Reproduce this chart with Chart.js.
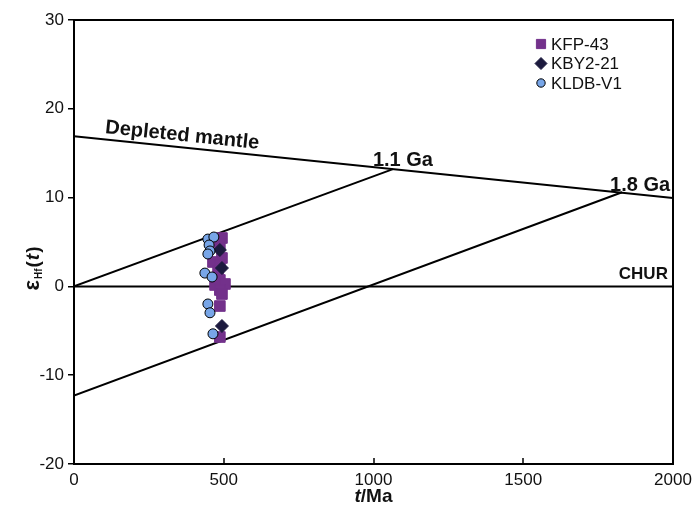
<!DOCTYPE html>
<html>
<head>
<meta charset="utf-8">
<script src="https://cdn.jsdelivr.net/npm/chart.js@4/dist/chart.umd.min.js"></script>
<style>
  html, body { margin: 0; padding: 0; background: #fff; }
  canvas { display: block; }
</style>
</head>
<body>
<canvas id="c" width="694" height="514"></canvas>
<script>
/* εHf(t) vs t (Ma) for zircons, with depleted mantle, CHUR and crustal model ages */

var FONT = '"Liberation Sans", Arial, sans-serif';
var INK = "#111";

var xTicks = [0, 500, 1000, 1500, 2000];
var yTicks = [-20, -10, 0, 10, 20, 30];

// KFP-43 (purple squares)
var kfpT = [494, 487, 494, 464, 487, 481, 487, 504, 471, 487, 494, 487, 487];
var kfpE = [5.45, 4.77, 3.2, 2.75, 2.41, 1.73, 0.72, 0.27, 0.16, -0.41, -0.86, -2.21, -5.7];

// KBY2-21 (dark diamonds)
var kbyT = [487, 494, 494];
var kbyE = [4.1, 2.07, -4.46];

// KLDB-V1 (blue circles)
var kldbT = [447, 467, 451, 454, 447, 437, 461, 447, 454, 464];
var kldbE = [5.33, 5.56, 4.66, 3.99, 3.65, 1.5, 1.06, -1.98, -2.97, -5.34];

// reference lines
var dmT = [0, 2000], dmE = [16.9, 9.95];
var ga11T = [0, 1065], ga11E = [0, 13.2];
var ga18T = [0, 1830], ga18E = [-12.3, 10.6];
var churT = [0, 2000], churE = [0, 0];

function pts(t, e) { return t.map(function (v, i) { return { x: v, y: e[i] }; }); }

function line(t, e) {
  return {
    type: "line", data: pts(t, e), showLine: true, pointRadius: 0,
    borderColor: "#000", borderWidth: 2, fill: false, tension: 0
  };
}

var series = [
  { label: "KFP-43", style: "rect", color: "#73318b", border: "#73318b", r: 7.5, lr: 6.5 },
  { label: "KBY2-21", style: "rectRot", color: "#1c1a3e", border: "#1c1a3e", r: 6.5, lr: 6 },
  { label: "KLDB-V1", style: "circle", color: "#78a6e8", border: "#000", r: 5, lr: 4.2 }
];

/* frame + inward x ticks */
var frame = {
  id: "frame",
  beforeDatasetsDraw: function (chart) {
    var a = chart.chartArea, ctx = chart.ctx, x = chart.scales.x;
    ctx.save();
    ctx.strokeStyle = "#000";
    ctx.lineWidth = 2;
    ctx.strokeRect(a.left, a.top, a.right - a.left, a.bottom - a.top);
    ctx.lineWidth = 1.5;
    xTicks.forEach(function (v) {
      var px = Math.round(x.getPixelForValue(v));
      ctx.beginPath();
      ctx.moveTo(px, a.bottom);
      ctx.lineTo(px, a.bottom - 6);
      ctx.stroke();
    });
    ctx.restore();
  }
};

/* texts: axis titles, line labels, legend */
var texts = {
  id: "texts",
  afterDraw: function (chart) {
    var ctx = chart.ctx, x = chart.scales.x, y = chart.scales.y, a = chart.chartArea;
    ctx.save();
    ctx.fillStyle = INK;
    ctx.textBaseline = "alphabetic";

    // y title: εHf(t)
    ctx.save();
    ctx.translate(39, 268);
    ctx.rotate(-Math.PI / 2);
    var parts = [
      ["ε", "bold 22px " + FONT, 0],
      ["Hf", "bold 10px " + FONT, 3],
      ["(", "bold 19px " + FONT, 0],
      ["t", "italic bold 19px " + FONT, 0],
      [")", "bold 19px " + FONT, 0]
    ];
    var w = 0;
    parts.forEach(function (p) { ctx.font = p[1]; w += ctx.measureText(p[0]).width + 1; });
    var cx = -w / 2;
    parts.forEach(function (p) {
      ctx.font = p[1];
      ctx.fillText(p[0], cx, p[2]);
      cx += ctx.measureText(p[0]).width + 1;
    });
    ctx.restore();

    // x title: t/Ma
    ctx.font = "italic bold 19px " + FONT;
    var tw = ctx.measureText("t").width;
    ctx.font = "bold 19px " + FONT;
    var mw = ctx.measureText("/Ma").width;
    var sx = (a.left + a.right) / 2 - (tw + mw) / 2;
    ctx.font = "italic bold 19px " + FONT;
    ctx.fillText("t", sx, 502);
    ctx.font = "bold 19px " + FONT;
    ctx.fillText("/Ma", sx + tw, 502);

    // Depleted mantle, rotated along the line
    var ang = Math.atan2(y.getPixelForValue(dmE[1]) - y.getPixelForValue(dmE[0]),
                         x.getPixelForValue(dmT[1]) - x.getPixelForValue(dmT[0]));
    ctx.save();
    ctx.translate(x.getPixelForValue(103), y.getPixelForValue(17.27));
    ctx.rotate(ang);
    ctx.font = "bold 20px " + FONT;
    ctx.fillText("Depleted mantle", 0, 0);
    ctx.restore();

    ctx.font = "bold 20px " + FONT;
    ctx.textAlign = "left";
    ctx.fillText("1.1 Ga", x.getPixelForValue(998), y.getPixelForValue(13.56));
    ctx.fillText("1.8 Ga", x.getPixelForValue(1790), y.getPixelForValue(10.74));
    ctx.font = "bold 17px " + FONT;
    ctx.textAlign = "right";
    ctx.fillText("CHUR", x.getPixelForValue(1983), y.getPixelForValue(0.83));

    // legend
    ctx.textAlign = "left";
    ctx.textBaseline = "middle";
    ctx.font = "17px " + FONT;
    series.forEach(function (s, i) {
      var ly = 44 + i * 19.5;
      ctx.fillStyle = s.color;
      ctx.strokeStyle = s.border;
      ctx.lineWidth = 1;
      Chart.helpers.drawPoint(ctx, { pointStyle: s.style, radius: s.lr, borderWidth: 1 }, 541, ly);
      ctx.fillStyle = INK;
      ctx.fillText(s.label, 551, ly + 1);
    });
    ctx.restore();
  }
};

function ds(s, t, e) {
  return {
    label: s.label, data: pts(t, e), pointStyle: s.style, pointRadius: s.r,
    backgroundColor: s.color, borderColor: s.border, borderWidth: 1
  };
}

new Chart(document.getElementById("c"), {
  type: "scatter",
  data: {
    datasets: [
      ds(series[2], kldbT, kldbE),
      ds(series[1], kbyT, kbyE),
      ds(series[0], kfpT, kfpE),
      line(dmT, dmE), line(ga11T, ga11E), line(ga18T, ga18E), line(churT, churE)
    ]
  },
  options: {
    responsive: false, animation: false, devicePixelRatio: 1,
    layout: { padding: { top: 20, right: 21, bottom: 0, left: 0 } },
    plugins: { legend: { display: false }, tooltip: { enabled: false } },
    scales: {
      x: {
        type: "linear", min: 0, max: 2000,
        afterBuildTicks: function (s) { s.ticks = xTicks.map(function (v) { return { value: v }; }); },
        afterFit: function (s) { s.height = 50; s.paddingLeft = 0; s.paddingRight = 0; },
        ticks: {
          font: { family: FONT, size: 17 }, color: INK, padding: 6, maxRotation: 0,
          callback: function (v) { return String(v); }
        },
        grid: { drawOnChartArea: false, drawTicks: false },
        border: { display: false }
      },
      y: {
        min: -20, max: 30,
        afterBuildTicks: function (s) { s.ticks = yTicks.map(function (v) { return { value: v }; }); },
        afterFit: function (s) { s.width = 74; s.paddingTop = 0; s.paddingBottom = 0; },
        ticks: {
          font: { family: FONT, size: 17 }, color: INK, padding: 4,
          callback: function (v) { return String(v); }
        },
        grid: { drawOnChartArea: false, drawTicks: true, tickLength: 6, color: "#000", lineWidth: 1.5 },
        border: { display: false }
      }
    }
  },
  plugins: [frame, texts]
});
</script>
</body>
</html>
